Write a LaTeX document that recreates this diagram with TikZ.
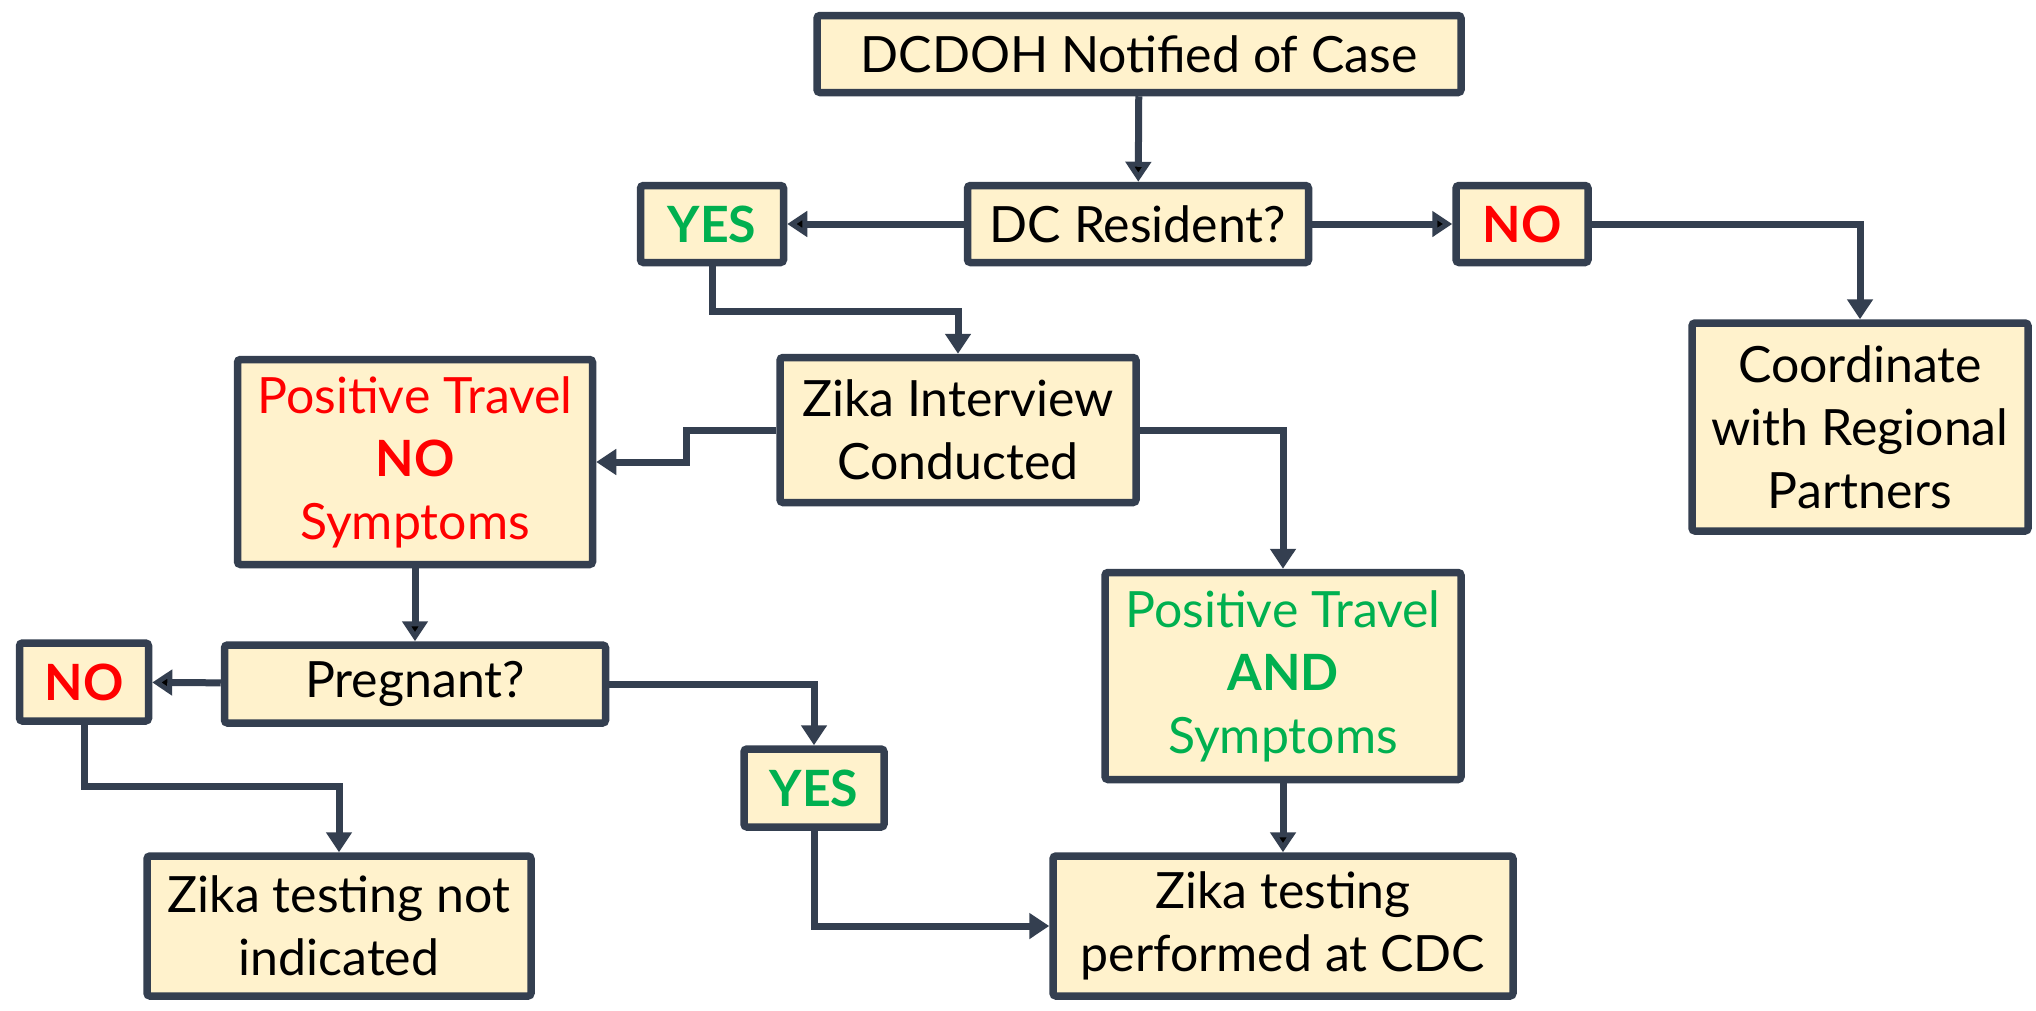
\documentclass[tikz,border=0pt]{standalone}
\usepackage{fontspec}
\setmainfont{Lato}
\usetikzlibrary{arrows.meta,positioning}
\definecolor{edgeblue}{RGB}{52,63,80}
\definecolor{boxfill}{RGB}{255,242,204}
\definecolor{nored}{RGB}{255,0,0}
\definecolor{yesgreen}{RGB}{0,176,80}

\begin{document}
\begin{tikzpicture}[x=1pt, y=-1pt, >={Triangle[length=20pt,width=25pt]},
	box/.style={draw=edgeblue, fill=boxfill, line width=7.5pt, rounded corners=3pt, align=center, inner sep=0pt},
	link/.style={->, draw=edgeblue, line width=7pt},
	every node/.style={font=\fontsize{50}{63}\selectfont}]
	\useasboundingbox (0,0) rectangle (2036,1010);

	\node[box, minimum width=644pt, minimum height=77pt] (0) at (1139,54) {DCDOH Notified of Case};
	\node[box, minimum width=341pt, minimum height=77pt] (1) at (1138,224) {DC Resident?};
	\node[box, minimum width=143pt, minimum height=77pt, text=yesgreen] (2) at (712,224) {\textbf{YES}};
	\node[box, minimum width=132pt, minimum height=77pt, text=nored] (3) at (1522,224) {\textbf{NO}};
	\node[box, minimum width=336pt, minimum height=208pt] (4) at (1860,427) {Coordinate\\with Regional\\Partners};
	\node[box, minimum width=356pt, minimum height=145pt] (5) at (958,430) {Zika Interview\\Conducted};
	\node[box, minimum width=355pt, minimum height=205pt, text=nored] (6) at (415,462) {Positive Travel\\\textbf{NO}\\Symptoms};
	\node[box, minimum width=381pt, minimum height=78pt] (7) at (415,684) {Pregnant?};
	\node[box, minimum width=129pt, minimum height=78pt, text=nored] (8) at (84,682) {\textbf{NO}};
	\node[box, minimum width=356pt, minimum height=207pt, text=yesgreen] (9) at (1283,676) {Positive Travel\\\textbf{AND}\\Symptoms};
	\node[box, minimum width=140pt, minimum height=78pt, text=yesgreen] (10) at (814,788) {\textbf{YES}};
	\node[box, minimum width=384pt, minimum height=140pt] (11) at (339,926) {Zika testing not\\indicated};
	\node[box, minimum width=460pt, minimum height=140pt] (12) at (1283,926) {Zika testing\\performed at CDC};

	\path[link]
		(0) edge (1)
		(1) edge (2)
		(1) edge (3)
		(6) edge (7)
		(7) edge (8)
		(9) edge (12);
	\draw[link] (3) -| (4);
	\draw[link] (2.south) -- ++(0,45) -| (5);
	\draw[link] (5.west) -- ++(-90,0) |- (6);
	\draw[link] (5) -| (9);
	\draw[link] (7) -| (10);
	\draw[link] (8.south) -- ++(0,62) -| (11);
	\draw[link] (10) |- (12);
\end{tikzpicture}
\end{document}
